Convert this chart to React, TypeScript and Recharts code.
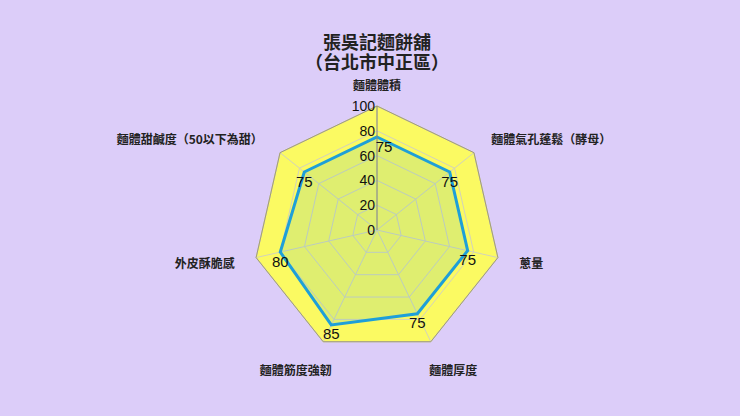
import React from 'react';
import { RadarChart, Radar, PolarGrid, PolarAngleAxis, PolarRadiusAxis, LabelList } from 'recharts';

const categories = [
  '麵體體積',
  '麵體氣孔蓬鬆（酵母）',
  '蔥量',
  '麵體厚度',
  '麵體筋度強韌',
  '外皮酥脆感',
  '麵體甜鹹度（50以下為甜）',
];
const scores = [75, 75, 75, 75, 85, 80, 75];
const radiusTicks = [0, 20, 40, 60, 80, 100];
const titleLines = ['張吳記麵餅舖', '（台北市中正區）'];

const data = categories.map((name, i) => ({ name, score: scores[i] }));

const CX = 377;
const CY = 230;
const R = 124;
const FONT = '"Noto Sans CJK TC", "Noto Sans", sans-serif';
// Latin primary font keeps the line box tight; CJK glyphs fall back to Noto CJK
const TITLE_FONT = '"Liberation Sans", "Noto Sans CJK TC", sans-serif';

const AngleTick = (props: any) => {
  const { x, y, payload } = props;
  const dx = x - CX;
  const dy = y - CY;
  const len = Math.sqrt(dx * dx + dy * dy) || 1;
  const cos = dx / len;
  const sin = -dy / len;
  let r = 146;
  let anchor: 'start' | 'middle' | 'end' = 'middle';
  let shiftX = 0;
  if (sin < -0.6) {
    r = 155;
    shiftX = cos > 0 ? 9 : -14;
  } else if (Math.abs(cos) > 0.1) {
    anchor = cos > 0 ? 'start' : 'end';
  }
  const tx = CX + r * cos + shiftX;
  const ty = CY - r * sin;
  return (
    <text x={tx} y={ty} textAnchor={anchor} dominantBaseline="central" fontSize={12} fontWeight={700} fill="#222" fontFamily={FONT}>
      {payload.value}
    </text>
  );
};

const RadiusTick = (props: any) => {
  const { x, y, payload } = props;
  return (
    <text x={x - 2} y={y} textAnchor="end" dominantBaseline="central" fontSize={14} fill="#111" fontFamily="Liberation Sans, Arial, sans-serif">
      {payload.value}
    </text>
  );
};

const ValueLabel = (props: any) => {
  const { x, y, value } = props;
  // the label on the vertical axis is nudged right so it clears the axis line
  const nx = Math.abs(x - CX) < 1 ? x + 7 : x;
  return (
    <text x={nx} y={y + 9} textAnchor="middle" dominantBaseline="central" fontSize={15} fill="#111" fontFamily="Liberation Sans, Arial, sans-serif">
      {value}
    </text>
  );
};

const App: React.FC = () => {
  return (
    <div style={{ position: 'relative', width: 740, height: 416, background: '#dccdf9' }}>
      <style>{`body{margin:0}`}</style>
      <div
        style={{
          position: 'absolute',
          left: 0,
          width: 754,
          top: 33,
          textAlign: 'center',
          fontFamily: TITLE_FONT,
          fontSize: 18,
          fontWeight: 700,
          lineHeight: '20px',
          color: '#222',
        }}
      >
        {titleLines.map((t) => (
          <div key={t}>{t}</div>
        ))}
      </div>
      <RadarChart width={740} height={416} data={data} cx={CX} cy={CY} outerRadius={R} margin={{ top: 0, right: 0, bottom: 0, left: 0 }}>
        <PolarGrid gridType="polygon" stroke="#d2d2bc" fill="#fbfa62" fillOpacity={1} />
        <PolarAngleAxis dataKey="name" tick={<AngleTick />} tickLine={false} axisLine={{ stroke: '#a39d76' }} />
        <PolarRadiusAxis
          angle={90}
          domain={[0, 100]}
          ticks={radiusTicks as any}
          tickCount={6}
          tick={<RadiusTick />}
          axisLine={{ stroke: '#8a8a70' }}
          tickLine={false}
        />
        <Radar
          dataKey="score"
          stroke="#1e9fd8"
          strokeWidth={3}
          fill="#2a9fd0"
          fillOpacity={0.13}
          isAnimationActive={false}
        >
          <LabelList dataKey="score" content={<ValueLabel />} />
        </Radar>
      </RadarChart>
    </div>
  );
};

export default App;
